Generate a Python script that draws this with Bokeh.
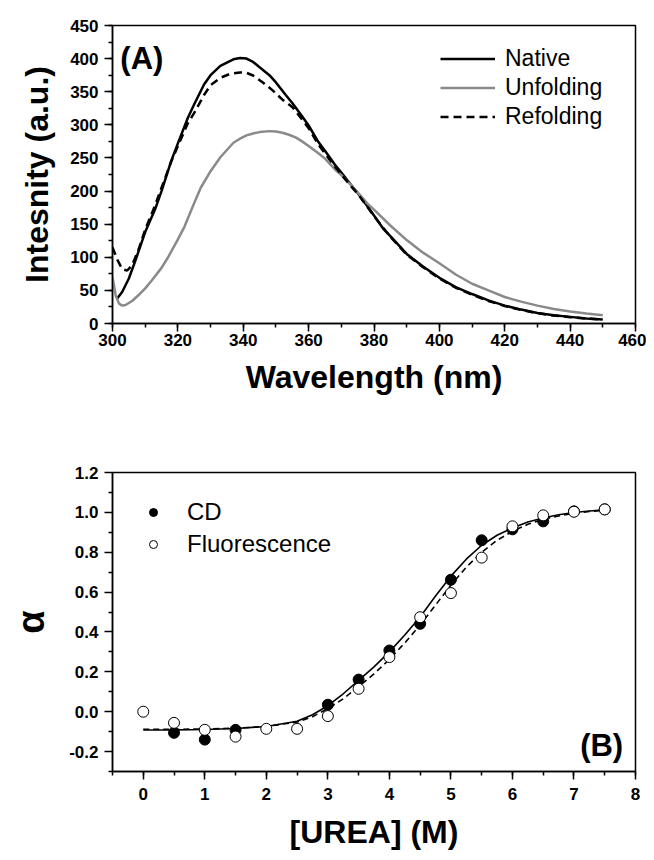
from bokeh.plotting import figure
from bokeh.models import (Range1d, Legend, LegendItem, Label, SingleIntervalTicker,
                          FixedTicker, PrintfTickFormatter)
from bokeh.layouts import column
from bokeh.embed import file_html
from bokeh.resources import INLINE

# ---------------- Panel A: emission spectra ----------------
native_wl = [301.5, 303, 305, 307, 310, 313, 315, 318, 320, 323, 325, 328, 330, 333, 335,
             337, 339, 341, 343, 345, 348, 350, 353, 355, 358, 360, 363, 365, 368, 370,
             373, 375, 378, 380, 383, 385, 390, 395, 400, 405, 410, 415, 420, 425, 430,
             435, 440, 445, 450]
native_int = [38, 48, 68, 95, 138, 172, 200, 246, 272, 310, 331, 361, 375, 389, 394,
              399, 401, 400, 395, 387, 375, 364, 345, 333, 313, 299, 274, 261, 240, 228,
              209, 197, 177, 163, 142, 132, 105, 86, 69, 55, 44.5, 35, 27, 21, 16,
              12.5, 10, 7.5, 6]

unfold_wl = [300, 301, 302, 303, 304, 306, 308, 310, 312, 315, 317, 320, 322, 325, 327,
             330, 333, 335, 337, 339, 341, 343, 345, 348, 350, 352, 354, 356, 358, 360,
             363, 365, 368, 370, 373, 375, 378, 380, 385, 390, 395, 400, 405, 410, 415,
             420, 425, 430, 435, 440, 445, 450]
unfold_int = [70, 42, 30, 27, 28, 34, 43, 53, 65, 84, 100, 127, 146, 182, 205,
              230, 251, 262, 273, 279, 284, 287, 289, 290.5, 290, 288, 285, 281, 275, 268,
              257, 249, 233, 224, 209, 198, 181, 172, 148, 126, 107, 91, 74, 60, 50,
              40, 33, 27, 22, 18, 15, 12.5]

refold_wl = [300, 301.5, 303, 304.5, 306, 308, 310, 313, 315, 318, 320, 323, 325, 328, 330,
             333, 336, 339, 341, 343, 346, 349, 352, 355, 358, 360, 363, 365, 368, 370,
             373, 375, 378, 380, 385, 390, 395, 400, 405, 410, 415, 420, 425, 430, 435,
             440, 445, 450]
refold_int = [115, 96, 82, 80, 88, 112, 142, 178, 205, 245, 268, 302, 318, 345, 360,
              371, 377, 379, 378.5, 374.5, 364, 352, 338, 327, 308, 295, 270, 257, 237, 225,
              207, 196, 176, 162, 131, 104, 85, 68, 54, 43.5, 34, 26.5, 20.5, 15.5, 12,
              9.5, 7.5, 6]

# ---------------- Panel B: urea denaturation ----------------
urea_cd = [0.5, 1.0, 1.5, 3.0, 3.5, 4.0, 4.5, 5.0, 5.5, 6.0, 6.5, 7.0, 7.5]
alpha_cd = [-0.106, -0.14, -0.091, 0.035, 0.161, 0.307, 0.441, 0.662, 0.86, 0.915, 0.955, 1.005, 1.015]

urea_fl = [0.0, 0.5, 1.0, 1.5, 2.0, 2.5, 3.0, 3.5, 4.0, 4.5, 5.0, 5.5, 6.0, 6.5, 7.0, 7.5]
alpha_fl = [0.0, -0.056, -0.091, -0.125, -0.086, -0.086, -0.022, 0.115, 0.274, 0.474, 0.595,
            0.773, 0.93, 0.985, 1.003, 1.015]

fit_x = [0, 0.5, 1, 1.5, 2, 2.5, 2.75, 3, 3.25, 3.5, 3.75, 4, 4.25, 4.5, 4.75, 5, 5.25,
         5.5, 5.75, 6, 6.25, 6.5, 6.75, 7, 7.25, 7.5]
fit_cd = [-0.092, -0.091, -0.089, -0.084, -0.074, -0.048, -0.015, 0.03, 0.09, 0.157, 0.225,
          0.30, 0.385, 0.475, 0.58, 0.68, 0.765, 0.835, 0.885, 0.922, 0.952, 0.972, 0.988,
          0.999, 1.007, 1.013]
fit_fl = [-0.088, -0.088, -0.087, -0.083, -0.074, -0.052, -0.025, 0.015, 0.065, 0.125, 0.19,
          0.262, 0.345, 0.435, 0.535, 0.635, 0.725, 0.80, 0.86, 0.905, 0.94, 0.965, 0.982,
          0.995, 1.004, 1.01]

b_major = [-0.2, 0.0, 0.2, 0.4, 0.6, 0.8, 1.0, 1.2]
b_minor = [-0.3, -0.1, 0.1, 0.3, 0.5, 0.7, 0.9, 1.1]

FONT = "Liberation Sans"


def style(p):
    p.xgrid.visible = False
    p.ygrid.visible = False
    p.outline_line_color = "black"
    p.outline_line_width = 1.5
    p.background_fill_color = "white"
    p.border_fill_color = "white"
    for ax in (p.xaxis[0], p.yaxis[0]):
        ax.axis_line_color = "black"
        ax.axis_line_width = 1.5
        ax.major_tick_line_color = "black"
        ax.minor_tick_line_color = "black"
        ax.major_tick_line_width = 1.5
        ax.minor_tick_line_width = 1.5
        ax.major_tick_out = 8
        ax.major_tick_in = 0
        ax.minor_tick_out = 4
        ax.minor_tick_in = 0
        ax.major_label_text_font = FONT
        ax.major_label_text_font_style = "bold"
        ax.major_label_text_font_size = "17px"
        ax.major_label_text_color = "black"
        ax.axis_label_text_font = FONT
        ax.axis_label_text_font_style = "bold"
        ax.axis_label_text_font_size = "32px"
        ax.axis_label_text_color = "black"


# ---------- figure A ----------
pA = figure(width=646, height=428, output_backend="svg", toolbar_location=None,
            x_range=Range1d(300, 460), y_range=Range1d(0, 450),
            min_border_left=112, min_border_right=10, min_border_top=25, min_border_bottom=105)
style(pA)
pA.xaxis.ticker = SingleIntervalTicker(interval=20, num_minor_ticks=2)
pA.yaxis.ticker = SingleIntervalTicker(interval=50, num_minor_ticks=2)
pA.xaxis.axis_label = "Wavelength (nm)"
pA.yaxis.axis_label = "Intesnity (a.u.)"
pA.xaxis.major_label_standoff = 2
pA.yaxis.major_label_standoff = 6
pA.xaxis.axis_label_standoff = 10
pA.yaxis.axis_label_standoff = 12

r_nat = pA.line(native_wl, native_int, line_color="black", line_width=2.5)
r_unf = pA.line(unfold_wl, unfold_int, line_color="#8a8a8a", line_width=2.5)
r_ref = pA.line(refold_wl, refold_int, line_color="black", line_width=2.5, line_dash="8 5")

legA = Legend(items=[LegendItem(label="Native", renderers=[r_nat]),
                     LegendItem(label="Unfolding", renderers=[r_unf]),
                     LegendItem(label="Refolding", renderers=[r_ref])],
              location=(328, 193), padding=0, margin=0, spacing=2,
              glyph_width=55, glyph_height=25, label_height=25, label_standoff=10,
              label_text_font=FONT, label_text_font_size="23px", label_text_color="black",
              border_line_alpha=0, background_fill_alpha=0)
pA.add_layout(legA)
pA.add_layout(Label(x=302.4, y=426, text="(A)", text_font=FONT, text_font_style="bold",
                    text_font_size="31px", text_color="black",
                    text_baseline="top", text_align="left"))

# ---------- figure B ----------
pB = figure(width=646, height=428, output_backend="svg", toolbar_location=None,
            x_range=Range1d(-0.5, 8), y_range=Range1d(-0.3, 1.2),
            min_border_left=112, min_border_right=11, min_border_top=44, min_border_bottom=85)
style(pB)
pB.xaxis.ticker = SingleIntervalTicker(interval=1, num_minor_ticks=2)
pB.yaxis.ticker = FixedTicker(ticks=b_major, minor_ticks=b_minor)
pB.yaxis.formatter = PrintfTickFormatter(format="%.1f")
pB.xaxis.axis_label = "[UREA] (M)"
pB.yaxis.axis_label = "\u03b1"
pB.yaxis.axis_label_text_font_size = "38px"
pB.xaxis.major_label_standoff = 8
pB.yaxis.major_label_standoff = 6
pB.xaxis.axis_label_standoff = 11
pB.yaxis.axis_label_standoff = 14

pB.line(fit_x, fit_cd, line_color="black", line_width=1.6)
pB.line(fit_x, fit_fl, line_color="black", line_width=1.6, line_dash="6 4")
r_cd = pB.scatter(urea_cd, alpha_cd, marker="circle", size=11, fill_color="black",
                  line_color="black")
r_fl = pB.scatter(urea_fl, alpha_fl, marker="circle", size=11, fill_color="white",
                  line_color="black", line_width=1)

legB = Legend(items=[LegendItem(label="CD", renderers=[r_cd]),
                     LegendItem(label="Fluorescence", renderers=[r_fl])],
              location=(31, 213), padding=0, margin=0, spacing=4,
              glyph_width=20, glyph_height=26, label_height=26, label_standoff=24,
              label_text_font=FONT, label_text_font_size="24px", label_text_color="black",
              border_line_alpha=0, background_fill_alpha=0)
pB.add_layout(legB)
pB.add_layout(Label(x=7.8, y=-0.17, text="(B)", text_font=FONT, text_font_style="bold",
                    text_font_size="31px", text_color="black",
                    text_baseline="alphabetic", text_align="right"))

layout = column(pA, pB, spacing=0)
open("out.html", "w").write(file_html(layout, INLINE))
